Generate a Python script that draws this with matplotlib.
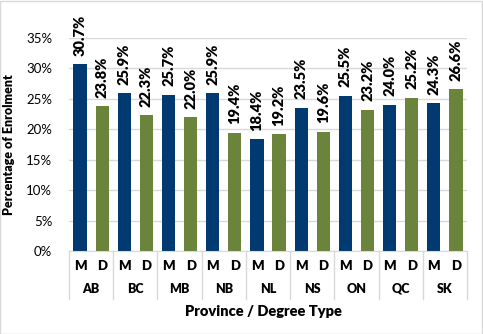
import matplotlib.pyplot as plt
import numpy as np
from matplotlib.patches import Rectangle

provinces = ['AB', 'BC', 'MB', 'NB', 'NL', 'NS', 'ON', 'QC', 'SK']
degree_types = ['M', 'D']
masters = [30.7, 25.9, 25.7, 25.9, 18.4, 23.5, 25.5, 24.0, 24.3]
doctoral = [23.8, 22.3, 22.0, 19.4, 19.2, 19.6, 23.2, 25.2, 26.6]

blue = '#003A70'
green = '#6A843C'
grid_col = '#D9D9D9'

plt.rcParams['font.family'] = ['Lato', 'DejaVu Sans']

fig = plt.figure(figsize=(4.83, 3.34), dpi=100)
ax = fig.add_axes([0.1429, 0.2485, 0.824, 0.6377])

# interleave M and D per province
values = []
colours = []
for m, d in zip(masters, doctoral):
    values += [m, d]
    colours += [blue, green]
x = np.arange(len(values))

ax.bar(x, values, width=0.6, color=colours, zorder=3)
for xi, v in zip(x, values):
    ax.text(xi, v + 1.4, '%.1f%%' % v, rotation=90, ha='center', va='bottom',
            fontsize=10.5, fontweight='heavy', clip_on=False)

ax.set_xlim(-0.5, len(values) - 0.5)
ax.set_ylim(0, 35)
ax.set_yticks(np.arange(0, 36, 5))
ax.set_yticklabels(['%d%%' % t for t in np.arange(0, 36, 5)], fontsize=9.5)
ax.yaxis.grid(True, color=grid_col, linewidth=1, zorder=0)
ax.tick_params(axis='y', length=0, pad=12)
ax.set_xticks([])
for s in ['top', 'right', 'left']:
    ax.spines[s].set_visible(False)
ax.spines['bottom'].set_color(grid_col)
ax.spines['bottom'].set_zorder(4)

# two level category axis
tr = ax.get_xaxis_transform()
for i in range(len(provinces) + 1):
    xs = 2 * i - 0.5
    ax.plot([xs, xs], [0, -0.225], color=grid_col, lw=1, transform=tr, clip_on=False)
for i, p in enumerate(provinces):
    for j, dt in enumerate(degree_types):
        ax.text(2 * i + j, -0.07, dt, transform=tr, ha='center', va='center',
                fontsize=9.5, fontweight='heavy')
    ax.text(2 * i + 0.5, -0.178, p, transform=tr, ha='center', va='center',
            fontsize=9, fontweight='heavy')

ax.text(8.3, -0.286, 'Province / Degree Type', transform=tr, ha='center', va='center',
        fontsize=10.5, fontweight='heavy')
ax.set_ylabel('Percentage of Enrolment', fontsize=9, fontweight='heavy', labelpad=8)

fig.add_artist(Rectangle((0.001, 0.001), 0.997, 0.996, transform=fig.transFigure,
                         fill=False, edgecolor='#D9D9D9', lw=1))

fig.savefig('out.png', dpi=100)
